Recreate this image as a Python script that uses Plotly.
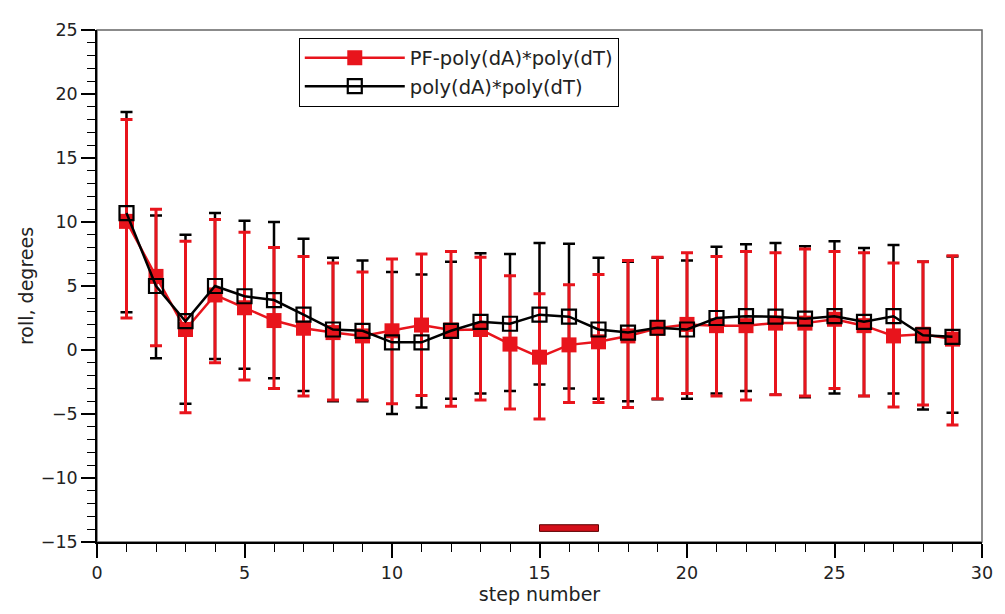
import plotly.graph_objects as go

steps = list(range(1, 30))

pf_mean = [10.05, 5.75, 1.6, 4.3, 3.3, 2.3, 1.7, 1.36, 1.1, 1.5, 1.95, 1.56, 1.6, 0.46, -0.56,
           0.4, 0.64, 1.1, 1.7, 2.0, 1.9, 1.9, 2.1, 2.1, 2.4, 1.9, 1.1, 1.23, 0.85]
pf_upper = [18.0, 11.0, 8.5, 10.2, 9.2, 8.0, 7.3, 6.8, 6.1, 7.1, 7.5, 7.7, 7.25, 5.8, 4.4,
            5.1, 5.9, 7.0, 7.25, 7.6, 7.3, 7.7, 7.6, 7.9, 7.7, 7.6, 6.8, 6.9, 7.37]
pf_lower = [2.5, 0.33, -4.9, -1.0, -2.35, -3.0, -3.6, -3.9, -3.9, -4.2, -3.55, -4.4, -3.9, -4.6, -5.4,
            -4.1, -4.1, -4.5, -3.8, -3.4, -3.6, -3.9, -3.5, -3.6, -3.0, -3.6, -4.45, -4.3, -5.85]

ref_mean = [10.7, 5.0, 2.25, 5.0, 4.2, 3.9, 2.76, 1.6, 1.5, 0.6, 0.6, 1.5, 2.2, 2.05, 2.76,
            2.6, 1.6, 1.36, 1.74, 1.6, 2.5, 2.64, 2.6, 2.45, 2.64, 2.2, 2.64, 1.15, 1.03]
ref_upper = [18.6, 10.5, 9.0, 10.7, 10.1, 10.0, 8.7, 7.2, 7.0, 6.1, 5.9, 6.9, 7.55, 7.5, 8.35,
             8.3, 7.2, 6.9, 7.2, 7.0, 8.06, 8.27, 8.35, 8.1, 8.5, 7.96, 8.2, 6.9, 7.3]
ref_lower = [2.95, -0.64, -4.2, -0.7, -1.46, -2.2, -3.2, -4.0, -4.0, -5.0, -4.5, -3.8, -3.4, -3.2, -2.7,
             -3.0, -3.8, -4.0, -3.85, -3.8, -3.4, -3.2, -3.5, -3.7, -3.4, -3.6, -3.4, -4.65, -4.9]

highlight_steps = [15, 17]
highlight_roll = [-14.17, -13.65]

RED = "#e8141c"
BLACK = "#000000"

fig = go.Figure()

# black error bars (drawn underneath)
fig.add_trace(go.Scatter(
    x=steps, y=ref_mean, mode="markers",
    marker=dict(size=1, color="rgba(0,0,0,0)"),
    error_y=dict(type="data", symmetric=False,
                 array=[u - m for u, m in zip(ref_upper, ref_mean)],
                 arrayminus=[m - l for m, l in zip(ref_mean, ref_lower)],
                 color=BLACK, thickness=2.5, width=6),
    showlegend=False, hoverinfo="skip"))

# red series
fig.add_trace(go.Scatter(
    x=steps, y=pf_mean, mode="lines+markers", name="PF-poly(dA)*poly(dT)",
    line=dict(color=RED, width=2.5),
    marker=dict(symbol="square", size=15, color=RED, line=dict(width=0)),
    error_y=dict(type="data", symmetric=False,
                 array=[u - m for u, m in zip(pf_upper, pf_mean)],
                 arrayminus=[m - l for m, l in zip(pf_mean, pf_lower)],
                 color=RED, thickness=3, width=6)))

# black series
fig.add_trace(go.Scatter(
    x=steps, y=ref_mean, mode="lines+markers", name="poly(dA)*poly(dT)",
    line=dict(color=BLACK, width=2.5),
    marker=dict(symbol="square-open", size=14, color=BLACK, line=dict(width=2.2, color=BLACK))))

# highlighted region bar
fig.add_shape(type="rect", xref="x", yref="y",
              x0=highlight_steps[0], x1=highlight_steps[1],
              y0=highlight_roll[0], y1=highlight_roll[1],
              fillcolor="#d4101a", line=dict(color="#5a0000", width=1))

# grey frame
fig.add_shape(type="rect", xref="paper", yref="paper", x0=0, x1=1, y0=0, y1=1,
              line=dict(color="#666666", width=1.5), layer="below")

axis_font = dict(family="DejaVu Sans", size=17.5, color="#222222")
title_font = dict(family="DejaVu Sans", size=19, color="#222222")

fig.update_layout(
    width=997, height=606,
    margin=dict(l=89, r=17, t=14, b=71),
    paper_bgcolor="white", plot_bgcolor="white",
    font=dict(family="DejaVu Sans", size=16, color="#222222"),
    legend=dict(x=0.228, y=0.985, xanchor="left", yanchor="top",
                bordercolor="#000000", borderwidth=1, bgcolor="white",
                font=dict(family="DejaVu Sans", size=19.5, color="#222222"),
                tracegroupgap=0, itemwidth=100),
    xaxis=dict(range=[0, 30], dtick=5, tick0=0, ticks="outside", ticklen=14, tickwidth=1.5,
               tickcolor="#000000", showline=True, linecolor="#000000", linewidth=1.5,
               showgrid=False, zeroline=False, tickfont=axis_font,
               minor=dict(dtick=1, ticks="outside", ticklen=8, tickcolor="#000000", tickwidth=1.3, showgrid=False),
               title=dict(text="step number", font=title_font, standoff=6)),
    yaxis=dict(range=[-15, 25], dtick=5, tick0=0, ticks="outside", ticklen=14, tickwidth=1.5,
               tickcolor="#000000", showline=True, linecolor="#000000", linewidth=1.5,
               showgrid=False, zeroline=False, tickfont=axis_font,
               minor=dict(dtick=1, ticks="outside", ticklen=8, tickcolor="#000000", tickwidth=1.3, showgrid=False),
               title=dict(text="roll, degrees", font=title_font, standoff=2)),
)

fig.write_html("out.html")
